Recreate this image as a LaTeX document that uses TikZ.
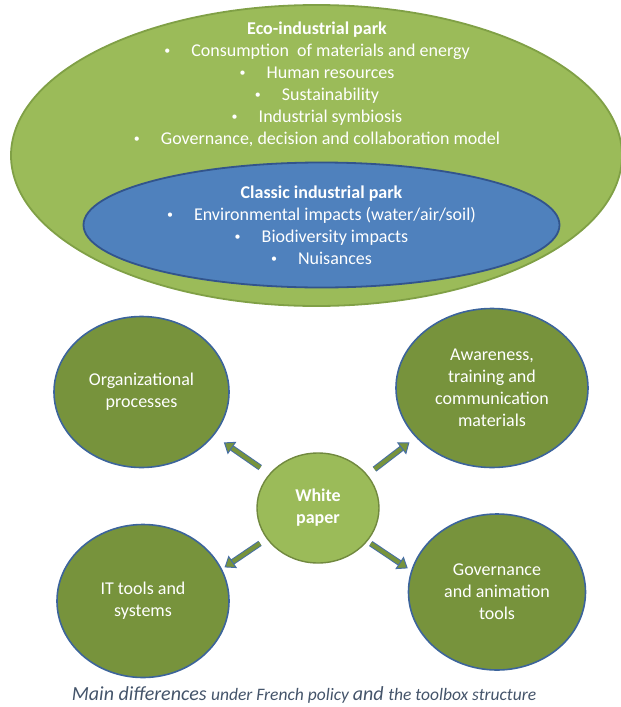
\documentclass[tikz,border=0pt]{standalone}
\usepackage{fontspec}
\setmainfont{Carlito}
\usetikzlibrary{arrows.meta,shapes.geometric}
\definecolor{ecogreen}{RGB}{155,187,89}
\definecolor{ecoline}{RGB}{128,160,70}
\definecolor{classicblue}{RGB}{79,129,189}
\definecolor{classicline}{RGB}{50,84,140}
\definecolor{toolgreen}{RGB}{119,147,60}
\definecolor{toolline}{RGB}{60,100,155}
\definecolor{wpline}{RGB}{113,137,63}
\definecolor{arrowline}{RGB}{70,110,165}
\definecolor{captioncolor}{RGB}{68,84,106}
\begin{document}
\begin{tikzpicture}[x=1pt, y=-1pt, line join = round, line cap = round,
  park/.style={ellipse, inner sep=0pt, line width=1.8pt, text=white, align=center, font=\fontsize{18}{22}\selectfont},
  tool/.style={ellipse, inner sep=0pt, fill=toolgreen, draw=toolline, line width=1.6pt, text=white, align=center, font=\fontsize{18}{22}\selectfont},
  blockarrow/.style={draw=arrowline, line width=1pt, double=toolgreen, double distance=4pt, line cap=butt,
    -{Triangle[length=10pt, width=15pt, fill=toolgreen, line width=1pt]}}]
\useasboundingbox (0,0) rectangle (621,707);
\def\bul{\makebox[27pt][l]{\raisebox{1.5pt}{\fontsize{12}{12}\selectfont•}}}
\def\capbig{\fontsize{20}{22}\selectfont}
\def\capsmall{\fontsize{17.5}{22}\selectfont}
%Hai vùng công nghiệp
\node[park, fill=ecogreen, draw=ecoline, minimum width=611pt, minimum height=301pt] (eco) at (316.5,155.5) {};
\node[park] (ecotext) at (317,84) {\textbf{Eco-industrial park}\\
  \bul Consumption\ \ of materials and energy\\
  \bul Human resources\\
  \bul Sustainability\\
  \bul Industrial symbiosis\\
  \bul Governance, decision and collaboration model};
\node[park, fill=classicblue, draw=classicline, minimum width=476pt, minimum height=125pt] (classic) at (321.5,225) {\textbf{Classic industrial park}\\
  \bul Environmental impacts (water/air/soil)\\
  \bul Biodiversity impacts\\
  \bul Nuisances};
%Bộ công cụ
\node[tool, minimum width=175pt, minimum height=151pt] (org) at (141.5,392) {Organizational\\processes};
\node[tool, minimum width=192pt, minimum height=159pt] (aw) at (492,388) {Awareness,\\training and\\communication\\materials};
\node[tool, minimum width=172pt, minimum height=153pt] (it) at (143,601) {IT tools and\\systems};
\node[tool, minimum width=177pt, minimum height=156pt] (gov) at (497,592) {Governance\\and animation\\tools};
\node[park, fill=ecogreen, draw=wpline, line width=1.4pt, minimum width=122pt, minimum height=110pt] (wp) at (318,508) {\textbf{White}\\\textbf{paper}};
%Mũi tên
\draw[blockarrow, shorten <=11pt, shorten >=12pt] (wp.145) -- (org.-31);
\draw[blockarrow, shorten <=9pt, shorten >=8pt] (wp.34) -- (aw.213);
\draw[blockarrow, shorten <=8pt, shorten >=3pt] (wp.211) -- (it.22);
\draw[blockarrow, shorten <=4pt, shorten >=4pt] (wp.-34) -- (gov.166);
%Chú thích
\node[text=captioncolor, font=\itshape] (caption) at (304,695) {\capbig Main differences \capsmall under French policy \capbig and \capsmall the toolbox structure};
\end{tikzpicture}
\end{document}
